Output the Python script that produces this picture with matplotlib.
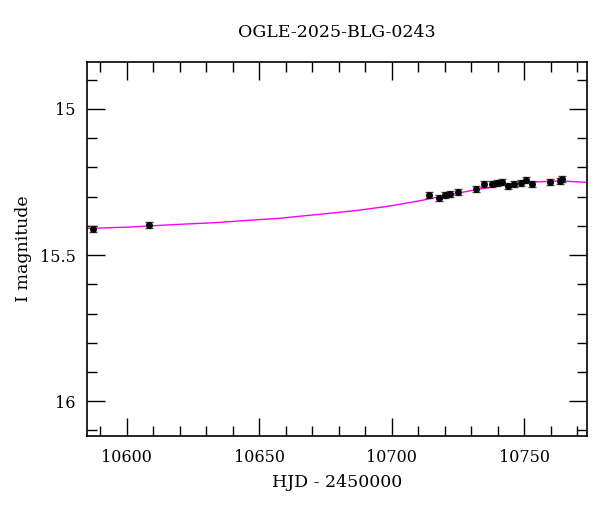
import matplotlib
matplotlib.use("Agg")
import matplotlib.pyplot as plt
from matplotlib.ticker import MultipleLocator

# OGLE photometry
hjd = [10587.3, 10608.4, 10714.0, 10717.8, 10720.0, 10721.9, 10724.9,
       10731.8, 10734.8, 10737.8, 10739.7, 10741.6, 10743.7, 10746.0,
       10748.6, 10750.6, 10752.8, 10759.7, 10763.4, 10764.1]
mag = [15.411, 15.397, 15.295, 15.306, 15.293, 15.290, 15.283,
       15.275, 15.258, 15.258, 15.254, 15.250, 15.264, 15.257,
       15.254, 15.244, 15.257, 15.251, 15.247, 15.240]
err = [0.010] * len(hjd)

# model curve
model_t = [10585.0, 10601.2, 10617.1, 10633.3, 10649.1, 10657.8, 10665.3,
           10676.6, 10687.9, 10699.3, 10710.6, 10721.9, 10733.2, 10744.5,
           10753.9, 10763.4, 10773.5]
model_m = [15.409, 15.404, 15.396, 15.389, 15.379, 15.374, 15.367,
           15.357, 15.346, 15.332, 15.314, 15.293, 15.274, 15.258,
           15.250, 15.246, 15.251]

plt.rcParams['font.family'] = ['DejaVu Serif']

fig = plt.figure(figsize=(6, 5.12), dpi=100)
ax = fig.add_axes([0.145, 0.148, 0.833, 0.731])

ax.plot(model_t, model_m, color='#ff00ff', lw=1.0, zorder=1)
ax.errorbar(hjd, mag, yerr=err, fmt='o', ms=4, color='black',
            ecolor='#444444', elinewidth=1, capsize=3, capthick=1, zorder=2)

ax.set_xlim(10585.0, 10773.6)
ax.set_ylim(16.12, 14.839)

ax.xaxis.set_major_locator(MultipleLocator(50))
ax.xaxis.set_minor_locator(MultipleLocator(10))
ax.yaxis.set_major_locator(MultipleLocator(0.5))
ax.yaxis.set_minor_locator(MultipleLocator(0.1))
ax.yaxis.set_major_formatter(plt.FuncFormatter(lambda v, p: f"{v:g}"))

ax.tick_params(which='both', direction='in', top=True, right=True,
               labelsize=11.5, color='black')
ax.tick_params(which='major', length=13, width=1)
ax.tick_params(which='minor', length=7, width=1)
ax.tick_params(axis='x', pad=9)
ax.tick_params(axis='y', pad=8)
for s in ax.spines.values():
    s.set_linewidth(1.2)

ax.set_title('OGLE-2025-BLG-0243', fontsize=12.5, pad=18)
ax.set_xlabel('HJD - 2450000', fontsize=12.5, labelpad=6)
ax.set_ylabel('I magnitude', fontsize=12.5, labelpad=6)

fig.savefig('out.png', dpi=100)
